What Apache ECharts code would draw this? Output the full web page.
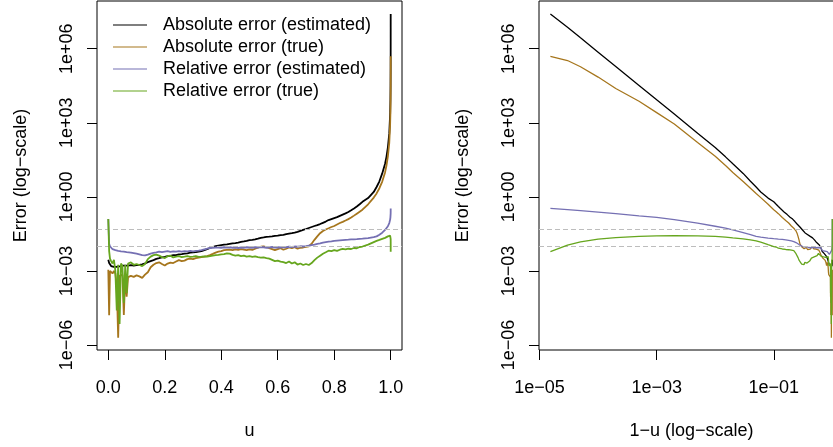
<!DOCTYPE html>
<html>
<head>
<meta charset="utf-8">
<script src="https://cdn.jsdelivr.net/npm/echarts@6/dist/echarts.min.js"></script>
<style>
  html, body { margin: 0; padding: 0; background: #fff; }
  #chart { width: 833px; height: 447px; }
</style>
</head>
<body>
<div id="chart"></div>
<script>
// Evaluation points u (dense grid on [0, 0.9], then points approaching 1)
const u = [
  0, 0.003, 0.006, 0.01, 0.015, 0.02, 0.025, 0.03, 0.035, 0.04, 0.045, 0.05, 0.055, 0.06, 0.065, 0.07, 0.08, 0.09,
  0.10, 0.11, 0.12, 0.13, 0.14, 0.15, 0.16, 0.17, 0.18, 0.19,
  0.20, 0.21, 0.22, 0.23, 0.24, 0.25, 0.26, 0.27, 0.28, 0.29,
  0.30, 0.31, 0.32, 0.33, 0.34, 0.35, 0.36, 0.37, 0.38, 0.39,
  0.40, 0.41, 0.42, 0.43, 0.44, 0.45, 0.46, 0.47, 0.48, 0.49,
  0.50, 0.51, 0.52, 0.53, 0.54, 0.55, 0.56, 0.57, 0.58, 0.59,
  0.60, 0.61, 0.62, 0.63, 0.64, 0.65, 0.66, 0.67, 0.68, 0.69,
  0.70, 0.71, 0.72, 0.73, 0.74, 0.75, 0.76, 0.77, 0.78, 0.79,
  0.80, 0.81, 0.82, 0.83, 0.84, 0.85, 0.86, 0.87, 0.88, 0.89,
  0.90, 0.92, 0.94, 0.95, 0.96, 0.97, 0.98, 0.985, 0.99, 0.995, 0.998, 0.999, 0.9995, 0.9998, 0.9999, 0.99995, 0.99997, 0.9999847
];

// Absolute error (estimated)
const absEst = [
  2.82e-3, 2.09e-3, 1.78e-3, 1.58e-3, 1.48e-3, 1.45e-3, 1.51e-3, 1.48e-3, 1.58e-3, 1.55e-3, 1.62e-3, 1.66e-3, 1.58e-3, 1.66e-3, 1.70e-3, 1.66e-3, 1.74e-3, 1.66e-3,
  1.74e-3, 1.78e-3, 1.86e-3, 2.04e-3, 2.29e-3, 2.51e-3, 2.75e-3, 3.09e-3, 3.31e-3, 3.55e-3,
  3.72e-3, 3.98e-3, 4.07e-3, 4.37e-3, 4.37e-3, 4.68e-3, 4.79e-3, 5.01e-3, 5.13e-3, 5.50e-3,
  5.62e-3, 5.75e-3, 6.03e-3, 6.31e-3, 6.92e-3, 7.59e-3, 8.51e-3, 9.33e-3, 1.02e-2, 1.07e-2,
  1.12e-2, 1.17e-2, 1.20e-2, 1.26e-2, 1.32e-2, 1.35e-2, 1.41e-2, 1.51e-2, 1.58e-2, 1.66e-2,
  1.78e-2, 1.82e-2, 1.91e-2, 2.04e-2, 2.19e-2, 2.29e-2, 2.40e-2, 2.45e-2, 2.51e-2, 2.63e-2,
  2.69e-2, 2.82e-2, 2.88e-2, 3.09e-2, 3.24e-2, 3.39e-2, 3.55e-2, 3.80e-2, 4.17e-2, 4.57e-2,
  5.01e-2, 5.50e-2, 6.03e-2, 6.61e-2, 7.24e-2, 7.94e-2, 8.91e-2, 0.100, 0.115, 0.126,
  0.138, 0.151, 0.170, 0.191, 0.214, 0.245, 0.288, 0.339, 0.407, 0.501,
  0.631, 0.891, 1.58, 2.51, 4.27, 8.91, 21.9, 41.7, 100, 380, 2240, 8510, 32400, 191000, 724000, 2750000, 7410000, 25100000
];

// Absolute error (true)
const absTrue = [
  1.12e-3, 1.62e-5, 1.0e-3, 8.91e-4, 7.94e-4, 1.0e-3, 7.94e-4, 2.51e-4, 2.0e-6, 6.31e-4, 5.62e-4, 7.08e-4, 1.66e-5, 6.31e-4, 9.12e-5, 5.62e-4, 6.31e-4, 5.75e-4,
  6.61e-4, 6.03e-4, 5.25e-4, 7.08e-4, 8.91e-4, 1.41e-3, 1.78e-3, 2.09e-3, 2.24e-3, 1.91e-3,
  1.66e-3, 2.0e-3, 2.19e-3, 2.09e-3, 2.40e-3, 2.75e-3, 2.51e-3, 2.63e-3, 3.02e-3, 3.16e-3,
  3.02e-3, 3.31e-3, 3.47e-3, 3.63e-3, 3.80e-3, 3.98e-3, 4.37e-3, 4.90e-3, 5.50e-3, 6.03e-3,
  6.31e-3, 6.92e-3, 7.08e-3, 7.24e-3, 6.92e-3, 7.41e-3, 7.08e-3, 7.59e-3, 7.24e-3, 6.92e-3,
  7.41e-3, 7.08e-3, 7.94e-3, 8.71e-3, 9.55e-3, 1.0e-2, 9.33e-3, 8.32e-3, 7.59e-3, 6.92e-3,
  7.59e-3, 8.32e-3, 7.24e-3, 7.94e-3, 8.91e-3, 8.32e-3, 9.12e-3, 7.94e-3, 8.71e-3, 8.91e-3,
  9.55e-3, 1.0e-2, 1.26e-2, 1.82e-2, 2.51e-2, 3.39e-2, 4.17e-2, 4.79e-2, 5.37e-2, 6.03e-2,
  6.61e-2, 7.59e-2, 8.71e-2, 9.77e-2, 0.110, 0.126, 0.145, 0.174, 0.209, 0.251,
  0.302, 0.501, 0.933, 1.38, 2.24, 4.17, 9.77, 18.6, 43.7, 158, 891, 2570, 7410, 24500, 70800, 186000, 331000, 490000
];

// Relative error (estimated)
const relEst = [
  0.126, 1.26e-2, 1.0e-2, 8.32e-3, 7.59e-3, 7.08e-3, 6.92e-3, 6.61e-3, 6.46e-3, 6.31e-3, 6.17e-3, 6.03e-3, 6.03e-3, 5.89e-3, 5.75e-3, 5.75e-3, 5.50e-3, 5.25e-3,
  5.01e-3, 4.68e-3, 4.37e-3, 4.27e-3, 4.57e-3, 5.01e-3, 5.37e-3, 5.62e-3, 6.03e-3, 5.75e-3,
  6.03e-3, 6.31e-3, 5.89e-3, 6.17e-3, 6.03e-3, 6.31e-3, 6.03e-3, 6.31e-3, 6.17e-3, 6.46e-3,
  6.17e-3, 6.46e-3, 6.61e-3, 6.92e-3, 7.41e-3, 7.94e-3, 8.51e-3, 8.71e-3, 8.91e-3, 8.91e-3,
  8.71e-3, 9.12e-3, 8.91e-3, 9.12e-3, 8.71e-3, 8.91e-3, 8.51e-3, 8.91e-3, 8.71e-3, 9.12e-3,
  8.91e-3, 8.71e-3, 9.12e-3, 8.91e-3, 9.33e-3, 9.12e-3, 8.71e-3, 8.91e-3, 9.33e-3, 8.91e-3,
  9.12e-3, 8.91e-3, 9.33e-3, 9.12e-3, 9.55e-3, 9.33e-3, 9.77e-3, 9.55e-3, 1.0e-2, 9.77e-3,
  1.02e-2, 1.07e-2, 1.12e-2, 1.17e-2, 1.26e-2, 1.32e-2, 1.41e-2, 1.48e-2, 1.55e-2, 1.58e-2,
  1.66e-2, 1.70e-2, 1.74e-2, 1.78e-2, 1.82e-2, 1.86e-2, 1.91e-2, 1.91e-2, 1.95e-2, 2.0e-2,
  2.04e-2, 2.14e-2, 2.34e-2, 2.51e-2, 2.95e-2, 3.55e-2, 4.57e-2, 5.37e-2, 6.46e-2, 8.71e-2, 0.120, 0.148, 0.170, 0.209, 0.240, 0.275, 0.302, 0.339
];

// Relative error (true)
const relTrue = [
  0.126, 6.31e-3, 3.16e-3, 2.51e-3, 2.0e-3, 2.82e-3, 1.0e-3, 2.51e-5, 1.78e-3, 7.08e-6, 2.0e-3, 1.58e-3, 5.01e-5, 1.78e-3, 1.26e-4, 2.0e-3, 2.24e-3, 1.78e-3,
  1.91e-3, 1.74e-3, 1.58e-3, 1.91e-3, 3.02e-3, 3.80e-3, 4.37e-3, 4.57e-3, 4.17e-3, 3.63e-3,
  3.31e-3, 3.98e-3, 4.17e-3, 3.55e-3, 3.80e-3, 3.98e-3, 3.63e-3, 3.80e-3, 3.98e-3, 3.72e-3,
  3.80e-3, 3.98e-3, 3.72e-3, 3.80e-3, 3.89e-3, 3.80e-3, 3.98e-3, 4.17e-3, 4.37e-3, 4.47e-3,
  4.68e-3, 4.79e-3, 5.13e-3, 5.01e-3, 4.47e-3, 4.17e-3, 4.37e-3, 3.98e-3, 4.17e-3, 3.80e-3,
  3.98e-3, 3.72e-3, 3.89e-3, 3.63e-3, 3.47e-3, 3.55e-3, 3.31e-3, 3.16e-3, 2.82e-3, 2.51e-3,
  2.63e-3, 2.40e-3, 2.29e-3, 2.09e-3, 2.40e-3, 2.0e-3, 2.24e-3, 1.82e-3, 2.0e-3, 1.74e-3,
  1.91e-3, 1.74e-3, 2.09e-3, 2.75e-3, 3.47e-3, 4.17e-3, 5.01e-3, 5.75e-3, 6.61e-3, 6.31e-3,
  6.92e-3, 6.46e-3, 7.24e-3, 7.76e-3, 7.41e-3, 7.94e-3, 7.76e-3, 8.51e-3, 8.32e-3, 9.33e-3,
  9.77e-3, 1.17e-2, 1.48e-2, 1.66e-2, 1.82e-2, 2.0e-2, 2.19e-2, 2.34e-2, 2.51e-2, 2.63e-2, 2.69e-2, 2.63e-2, 2.51e-2, 2.24e-2, 1.95e-2, 1.51e-2, 1.12e-2, 6.03e-3
];

const seriesNames = ['Absolute error (estimated)', 'Absolute error (true)', 'Relative error (estimated)', 'Relative error (true)'];
const seriesValues = [absEst, absTrue, relEst, relTrue];
const seriesColors = ['#000000', '#A6761D', '#7570B3', '#66A61E'];

// Reference levels drawn as dashed horizontal lines
const refLevels = [0.05, 0.01];

// Tick positions
const uTicks = [0, 0.2, 0.4, 0.6, 0.8, 1.0];
const errTickExponents = [-6, -3, 0, 3, 6];
const tailTickExponents = [-5, -3, -1];

const MINUS = '\u2212';
const FONT = 'Liberation Sans, Arial, Helvetica, sans-serif';
const FS = 18;

function expLabel(e) {
  const a = Math.abs(Math.round(e));
  return '1e' + (e < 0 ? MINUS : '+') + (a < 10 ? '0' + a : String(a));
}

function axisCommon() {
  return {
    axisLine: { show: false, onZero: false },
    splitLine: { show: false },
    nameTextStyle: { fontFamily: FONT, fontSize: FS, color: '#000' }
  };
}

function tickDef(values) {
  return { show: true, inside: false, length: 10, customValues: values, lineStyle: { color: '#000', width: 1 } };
}

function yAxisDef(gridIndex) {
  return Object.assign(axisCommon(), {
    type: 'value', gridIndex: gridIndex,
    min: -6.2, max: 7.93,
    name: 'Error (log' + MINUS + 'scale)', nameLocation: 'middle', nameGap: 67,
    axisTick: tickDef(errTickExponents),
    axisLabel: {
      customValues: errTickExponents, rotate: 90, margin: 21,
      fontFamily: FONT, fontSize: FS, color: '#000',
      formatter: v => expLabel(v)
    }
  });
}

const log10 = Math.log10;

function lineSeries(i, gridIndex, xOf) {
  const s = {
    type: 'line', name: seriesNames[i],
    xAxisIndex: gridIndex, yAxisIndex: gridIndex,
    data: u.map((uv, k) => [xOf(uv), log10(seriesValues[i][k])]),
    showSymbol: false, symbol: 'none',
    lineStyle: { color: seriesColors[i], width: gridIndex === 0 ? 1.8 : 1.3 },
    itemStyle: { color: seriesColors[i] },
    animation: false, silent: true, z: 2 + i
  };
  if (i === 0) {
    s.markLine = {
      silent: true, symbol: ['none', 'none'], animation: false,
      label: { show: false },
      lineStyle: { type: [5, 3], color: '#bdbdbd', width: 1 },
      data: refLevels.map(v => ({ yAxis: log10(v) }))
    };
  }
  return s;
}

const chart = echarts.init(document.getElementById('chart'), null, { renderer: 'canvas' });

const series = [];
for (let i = 0; i < 4; i++) series.push(lineSeries(i, 0, uv => uv));
for (let i = 0; i < 4; i++) series.push(lineSeries(i, 1, uv => log10(1 - uv)));

chart.setOption({
  backgroundColor: '#ffffff',
  animation: false,
  grid: [
    { left: 97, top: 1, width: 305, height: 349, show: true, borderColor: '#000', borderWidth: 1, backgroundColor: 'transparent', outerBoundsMode: 'none', containLabel: false },
    { left: 539, top: 1, width: 305, height: 349, show: true, borderColor: '#000', borderWidth: 1, backgroundColor: 'transparent', outerBoundsMode: 'none', containLabel: false }
  ],
  xAxis: [
    Object.assign(axisCommon(), {
      type: 'value', gridIndex: 0, min: -0.04, max: 1.04,
      name: 'u', nameLocation: 'middle', nameGap: 72,
      axisTick: tickDef(uTicks),
      axisLabel: { customValues: uTicks, margin: 29, fontFamily: FONT, fontSize: FS, color: '#000', formatter: v => v.toFixed(1) }
    }),
    Object.assign(axisCommon(), {
      type: 'value', gridIndex: 1, min: -5.01, max: 0.2,
      name: '1' + MINUS + 'u (log' + MINUS + 'scale)', nameLocation: 'middle', nameGap: 72,
      axisTick: tickDef(tailTickExponents),
      axisLabel: { customValues: tailTickExponents, margin: 29, fontFamily: FONT, fontSize: FS, color: '#000', formatter: v => expLabel(v) }
    })
  ],
  yAxis: [yAxisDef(0), yAxisDef(1)],
  legend: {
    data: seriesNames, orient: 'vertical', left: 113, top: 16,
    icon: 'rect', itemWidth: 34, itemHeight: 1, itemGap: 4, padding: 0,
    textStyle: { fontFamily: FONT, fontSize: FS, color: '#000', padding: [0, 0, 0, 11], lineHeight: 18 },
    selectedMode: false
  },
  series: series
});
</script>
</body>
</html>
